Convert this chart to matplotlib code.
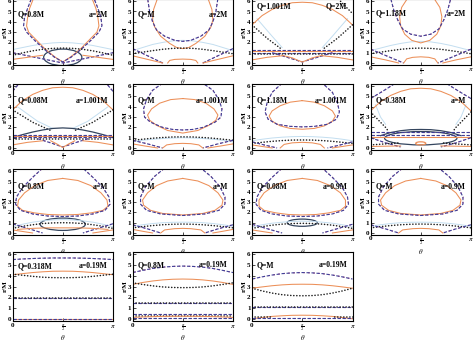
import numpy as np
import matplotlib.pyplot as plt
from matplotlib.patches import Ellipse

plt.rcParams['font.family'] = ['Liberation Serif', 'DejaVu Serif']
plt.rcParams['mathtext.fontset'] = 'stix'

# panel labels (left: charge, right: spin)
left_labels = ["Q=0.8M", "Q=M", "Q=1.001M", "Q=1.18M",
               "Q=0.08M", "Q=M", "Q=1.18M", "Q=0.38M",
               "Q=0.8M", "Q=M", "Q=0.08M", "Q=M",
               "Q=0.318M", "Q=0.8M", "Q=M"]
right_labels = ["a=2M", "a=2M", "Q=2M", "a=2M",
                "a=1.001M", "a=1.001M", "a=1.001M", "a=M",
                "a=M", "a=M", "a=0.9M", "a=0.9M",
                "a=0.19M", "a=0.19M", "a=0.19M"]
label_r = [4.7, 4.7, 5.5, 4.8, 4.6, 4.6, 4.6, 4.6,
           4.5, 4.5, 4.5, 4.5, 4.9, 5.0, 5.0]

# curves: (style, theta/pi, r/M, mirror mode)
# "join" -> left half mirrored about pi/2 into one line, "pair" -> two separate lines
dome_hi_t = [0, 0.1, 0.2, 0.3, 0.4, 0.5]

p1 = [
    ("lb", dome_hi_t, [1.3, 1.5, 1.7, 1.85, 1.95, 2.0], "join"),
    ("or", [0.21, 0.17, 0.15, 0.14, 0.16, 0.23, 0.32, 0.42, 0.5], [6.3, 5.3, 4.4, 3.6, 3.0, 2.3, 1.4, 0.6, 0.1], "join"),
    ("pd", [0.19, 0.15, 0.12, 0.11, 0.14, 0.22, 0.32, 0.42, 0.5], [6.3, 5.3, 4.4, 3.6, 3.0, 2.2, 1.3, 0.55, 0.1], "join"),
    ("pd", [0.0, 0.25, 0.5], [1.0, 0.5, 0.0], "join"),
    ("bd", dome_hi_t, [0.75, 0.98, 1.18, 1.33, 1.42, 1.45], "join"),
    ("or", [0.0, 0.15, 0.3], [0.35, 0.55, 0.75], "pair"),
]
p2 = [
    ("lb", dome_hi_t, [1.2, 1.5, 1.8, 2.0, 2.15, 2.2], "join"),
    ("or", [0.25, 0.21, 0.2, 0.22, 0.28, 0.37, 0.44, 0.5], [6.3, 5.2, 4.2, 3.5, 2.6, 1.9, 1.5, 1.4], "join"),
    ("pd", [0.15, 0.17, 0.2, 0.24, 0.32, 0.42, 0.5], [6.3, 5.0, 4.0, 3.2, 2.6, 2.2, 2.1], "join"),
    ("bd", dome_hi_t, [0.9, 1.05, 1.2, 1.33, 1.42, 1.45], "join"),
    ("pd", [0.0, 0.15, 0.3], [1.4, 0.7, 0.0], "pair"),
    ("or", [0.35, 0.37, 0.42, 0.5], [0.0, 0.25, 0.35, 0.38], "join"),
    ("or", [0.0, 0.15, 0.3], [0.7, 0.35, 0.0], "pair"),
]
p3 = [
    ("lb", [0.05, 0.2, 0.3], [4.3, 2.6, 1.5], "pair"),
    ("or", dome_hi_t, [3.7, 4.6, 5.2, 5.6, 5.85, 5.9], "join"),
    ("bd", [0.0, 0.15, 0.3], [3.7, 2.4, 1.3], "pair"),
    ("bd", [0.86, 1.0], [6.2, 4.8], None),
    ("pd", [0.0, 1.0], [1.25, 1.25], None),
    ("or", [0.0, 1.0], [1.12, 1.12], None),
    ("pd", [0.0, 1.0], [1.0, 1.0], None),
    ("bd", [0.0, 1.0], [0.85, 0.85], None),
    ("pd", [0.2, 0.35, 0.5], [1.0, 0.55, 0.1], "join"),
    ("or", [0.3, 0.4, 0.46, 0.5], [0.75, 0.5, 0.25, 0.1], "join"),
    ("or", [0.0, 0.15, 0.3], [0.3, 0.55, 0.7], "pair"),
]
p4 = [
    ("lb", dome_hi_t, [1.2, 1.45, 1.7, 1.9, 2.05, 2.1], "join"),
    ("or", [0.37, 0.31, 0.29, 0.3, 0.34, 0.41, 0.5], [6.3, 5.4, 4.5, 3.6, 2.8, 2.2, 1.95], "join"),
    ("pd", [0.2, 0.23, 0.27, 0.32, 0.4, 0.5], [6.3, 5.2, 4.2, 3.3, 2.8, 2.6], "join"),
    ("bd", dome_hi_t, [0.9, 1.05, 1.2, 1.33, 1.42, 1.45], "join"),
    ("pd", [0.0, 0.17, 0.33], [1.35, 0.65, 0.0], "pair"),
    ("or", [0.33, 0.36, 0.42, 0.5], [0.0, 0.4, 0.55, 0.6], "join"),
    ("or", [0.0, 0.15, 0.28], [0.6, 0.3, 0.0], "pair"),
]
p5 = [
    ("lb", [0.05, 0.25, 0.4], [4.0, 2.6, 1.9], "pair"),
    ("or", dome_hi_t, [3.7, 4.6, 5.2, 5.6, 5.85, 5.9], "join"),
    ("bd", [0.0, 0.2, 0.38], [3.7, 2.5, 1.7], "pair"),
    ("pd", [0.0, 0.06], [5.5, 6.2], "pair"),
    ("dk", dome_hi_t, [1.0, 1.3, 1.55, 1.75, 1.9, 1.95], "join"),
    ("pd", [0.0, 1.0], [1.3, 1.3], None),
    ("or", [0.0, 1.0], [1.15, 1.15], None),
    ("pd", [0.0, 1.0], [1.05, 1.05], None),
    ("bd", [0.0, 1.0], [0.85, 0.85], None),
    ("pd", [0.25, 0.38, 0.5], [0.9, 0.5, 0.1], "join"),
    ("or", [0.38, 0.44, 0.5], [0.7, 0.4, 0.05], "join"),
    ("or", [0.0, 0.15, 0.3], [0.3, 0.55, 0.7], "pair"),
]
p6 = [
    ("lb", dome_hi_t, [0.6, 0.75, 0.85, 0.92, 0.97, 1.0], "join"),
    ("or", [0.5, 0.38, 0.27, 0.19, 0.15, 0.17, 0.24, 0.35, 0.5], [4.8, 4.7, 4.35, 3.8, 3.2, 2.7, 2.2, 1.7, 1.45], "join"),
    ("pd", [0.3, 0.2, 0.14, 0.11, 0.12, 0.18, 0.3, 0.4, 0.5], [6.3, 5.6, 4.7, 3.8, 3.0, 2.5, 2.0, 1.8, 1.75], "join"),
    ("bd", dome_hi_t, [0.75, 0.85, 0.95, 1.02, 1.07, 1.08], "join"),
    ("pd", [0.0, 0.15, 0.3], [0.75, 0.4, 0.0], "pair"),
    ("or", [0.3, 0.34, 0.42, 0.5], [0.0, 0.3, 0.42, 0.45], "join"),
    ("or", [0.0, 0.12, 0.25], [0.4, 0.2, 0.0], "pair"),
]
p7 = [
    ("lb", dome_hi_t, [0.7, 0.85, 0.97, 1.05, 1.1, 1.12], "join"),
    ("or", [0.5, 0.38, 0.28, 0.2, 0.17, 0.2, 0.28, 0.38, 0.5], [4.6, 4.45, 4.1, 3.6, 3.1, 2.6, 2.15, 1.9, 1.82], "join"),
    ("pd", [0.3, 0.2, 0.15, 0.13, 0.16, 0.25, 0.38, 0.5], [6.3, 5.4, 4.4, 3.5, 2.8, 2.3, 2.1, 2.05], "join"),
    ("bd", dome_hi_t, [0.45, 0.55, 0.65, 0.72, 0.77, 0.78], "join"),
    ("pd", [0.0, 0.12, 0.25], [0.6, 0.3, 0.0], "pair"),
    ("or", [0.28, 0.32, 0.4, 0.5], [0.0, 0.35, 0.5, 0.55], "join"),
    ("or", [0.0, 0.1, 0.2], [0.3, 0.15, 0.0], "pair"),
]
p8 = [
    ("lb", [0.05, 0.1, 0.15], [4.2, 3.0, 2.3], "pair"),
    ("or", dome_hi_t, [3.6, 4.5, 5.1, 5.5, 5.75, 5.8], "join"),
    ("pd", [0.0, 0.12, 0.25], [4.8, 5.5, 6.3], "pair"),
    ("bd", [0.0, 0.08, 0.15, 0.18], [3.5, 2.7, 2.0, 1.6], "pair"),
    ("dk", [0.1, 0.2, 0.3, 0.4, 0.5], [1.2, 1.5, 1.68, 1.78, 1.8], "join"),
    ("pd", [0.0, 1.0], [1.55, 1.55], None),
    ("pd", [0.0, 1.0], [1.3, 1.3], None),
    ("or", [0.0, 1.0], [1.1, 1.1], None),
    ("pd", [0.0, 0.15, 0.3], [1.0, 0.5, 0.1], "pair"),
    ("bd", [0.0, 0.3], [0.3, 0.5], "pair"),
    ("or", [0.0, 0.3], [0.15, 0.2], "pair"),
]
p9 = [
    ("lb", dome_hi_t, [0.6, 0.85, 1.05, 1.18, 1.27, 1.3], "join"),
    ("or", [0.5, 0.35, 0.22, 0.12, 0.06, 0.05, 0.1, 0.22, 0.35, 0.5], [5.3, 5.1, 4.6, 3.9, 3.2, 2.6, 2.2, 1.95, 1.8, 1.75], "join"),
    ("pd", [0.3, 0.2, 0.1, 0.04, 0.03, 0.08, 0.2, 0.35, 0.5], [6.3, 5.4, 4.4, 3.5, 2.8, 2.2, 1.85, 1.65, 1.6], "join"),
    ("bd", dome_hi_t, [0.45, 0.65, 0.8, 0.92, 0.98, 1.0], "join"),
    ("pd", [0.0, 0.15, 0.3], [0.9, 0.45, 0.0], "pair"),
    ("or", [0.05, 0.2, 0.35, 0.5], [0.35, 0.45, 0.5, 0.5], "join"),
    ("or", [0.0, 0.1, 0.2], [0.3, 0.15, 0.0], "pair"),
]
p10 = [
    ("lb", dome_hi_t, [0.65, 0.8, 0.92, 1.0, 1.04, 1.05], "join"),
    ("or", [0.5, 0.35, 0.24, 0.15, 0.1, 0.11, 0.18, 0.3, 0.5], [5.3, 5.05, 4.6, 3.9, 3.2, 2.7, 2.2, 1.9, 1.75], "join"),
    ("pd", [0.32, 0.22, 0.13, 0.08, 0.08, 0.14, 0.28, 0.5], [6.3, 5.5, 4.5, 3.5, 2.8, 2.2, 1.85, 1.7], "join"),
    ("bd", dome_hi_t, [0.5, 0.62, 0.72, 0.8, 0.85, 0.87], "join"),
    ("pd", [0.0, 0.15, 0.28], [0.8, 0.4, 0.0], "pair"),
    ("or", [0.28, 0.32, 0.42, 0.5], [0.0, 0.3, 0.42, 0.45], "join"),
    ("or", [0.0, 0.1, 0.2], [0.35, 0.17, 0.0], "pair"),
]
p11 = [
    ("lb", dome_hi_t, [0.6, 0.8, 0.95, 1.05, 1.12, 1.15], "join"),
    ("or", [0.5, 0.35, 0.22, 0.12, 0.07, 0.07, 0.12, 0.24, 0.36, 0.5], [5.3, 5.1, 4.6, 3.9, 3.2, 2.6, 2.2, 1.95, 1.8, 1.75], "join"),
    ("pd", [0.3, 0.2, 0.1, 0.05, 0.04, 0.09, 0.2, 0.35, 0.5], [6.3, 5.4, 4.4, 3.5, 2.8, 2.2, 1.85, 1.65, 1.6], "join"),
    ("bd", dome_hi_t, [0.45, 0.62, 0.76, 0.86, 0.92, 0.94], "join"),
    ("pd", [0.0, 0.15, 0.3], [0.85, 0.42, 0.0], "pair"),
    ("or", [0.0, 0.1, 0.2], [0.3, 0.15, 0.0], "pair"),
]
p12 = [
    ("lb", dome_hi_t, [0.65, 0.8, 0.92, 1.0, 1.04, 1.05], "join"),
    ("or", [0.5, 0.35, 0.24, 0.15, 0.1, 0.11, 0.18, 0.3, 0.5], [5.3, 5.05, 4.6, 3.9, 3.2, 2.7, 2.2, 1.9, 1.75], "join"),
    ("pd", [0.32, 0.22, 0.13, 0.08, 0.08, 0.14, 0.28, 0.5], [6.3, 5.5, 4.5, 3.5, 2.8, 2.2, 1.85, 1.7], "join"),
    ("bd", dome_hi_t, [0.5, 0.62, 0.72, 0.8, 0.85, 0.87], "join"),
    ("pd", [0.0, 0.15, 0.28], [0.8, 0.4, 0.0], "pair"),
    ("or", [0.28, 0.32, 0.42, 0.5], [0.0, 0.3, 0.42, 0.45], "join"),
]
p13 = [
    ("pd", dome_hi_t, [5.5, 5.56, 5.6, 5.63, 5.65, 5.65], "join"),
    ("or", dome_hi_t, [4.1, 4.2, 4.3, 4.37, 4.42, 4.43], "join"),
    ("bd", dome_hi_t, [4.15, 4.05, 3.95, 3.87, 3.83, 3.82], "join"),
    ("pd", [0.0, 1.0], [1.9, 1.9], None),
    ("bd", [0.0, 1.0], [1.9, 1.9], None),
    ("or", [0.0, 1.0], [0.04, 0.04], None),
    ("pd", [0.0, 1.0], [0.0, 0.0], None),
]
p14 = [
    ("pd", dome_hi_t, [4.3, 4.5, 4.68, 4.8, 4.87, 4.9], "join"),
    ("or", dome_hi_t, [3.2, 3.38, 3.52, 3.62, 3.68, 3.7], "join"),
    ("bd", dome_hi_t, [3.35, 3.2, 3.07, 2.97, 2.92, 2.9], "join"),
    ("pd", [0.0, 1.0], [1.45, 1.45], None),
    ("bd", [0.0, 1.0], [1.45, 1.45], None),
    ("pd", [0.0, 1.0], [0.45, 0.45], None),
    ("bd", [0.0, 1.0], [0.32, 0.32], None),
    ("or", dome_hi_t, [0.15, 0.19, 0.22, 0.24, 0.25, 0.25], "join"),
    ("pd", [0.0, 1.0], [0.05, 0.05], None),
]
p15 = [
    ("pd", dome_hi_t, [3.7, 3.9, 4.07, 4.2, 4.27, 4.3], "join"),
    ("or", dome_hi_t, [2.85, 2.97, 3.08, 3.16, 3.21, 3.22], "join"),
    ("bd", dome_hi_t, [2.85, 2.6, 2.4, 2.25, 2.17, 2.15], "join"),
    ("pd", [0.0, 1.0], [1.15, 1.15], None),
    ("bd", [0.0, 1.0], [1.15, 1.15], None),
    ("or", dome_hi_t, [0.02, 0.14, 0.24, 0.3, 0.34, 0.35], "join"),
    ("bd", [0.0, 0.2], [0.15, 0.15], "pair"),
    ("pd", [0.0, 1.0], [0.05, 0.05], None),
]
panels = [p1, p2, p3, p4, p5, p6, p7, p8, p9, p10, p11, p12, p13, p14, p15]

# ellipses: panel index -> (style, theta/pi centre, r centre, width/pi, height)
ellipses = {
    0: [("dk", 0.5, 0.55, 0.38, 1.6)],
    7: [("dk", 0.5, 0.95, 0.72, 1.3), ("or", 0.5, 0.45, 0.1, 0.3)],
    8: [("dk", 0.5, 0.85, 0.45, 1.2)],
    10: [("dk", 0.5, 1.0, 0.3, 0.7)],
}

colors = {"or": "#ec8f58", "lb": "#c3def0", "dk": "#34455e", "bd": "#1e1e1e"}


def plot_styled(ax, x, y, style):
    if style == "pd":
        ax.plot(x, y, color="#c85a82", lw=0.8, ls=(3, (1.5, 3)))
        ax.plot(x, y, color="#3f3f98", lw=0.8, ls=(0, (3, 1.5)))
    elif style == "bd":
        ax.plot(x, y, color=colors["bd"], lw=1.15, ls=(0, (0.1, 1.8)),
                dash_capstyle="round")
    elif style == "lb":
        ax.plot(x, y, color=colors["lb"], lw=0.7)
    elif style == "dk":
        ax.plot(x, y, color=colors["dk"], lw=0.9)
    else:
        ax.plot(x, y, color=colors["or"], lw=0.75)


def draw_curve(ax, style, t, r, mode):
    t = np.asarray(t, float)
    r = np.asarray(r, float)
    if mode == "join":
        segs = [(np.concatenate([t, 1 - t[::-1][1:]]),
                 np.concatenate([r, r[::-1][1:]]))]
    elif mode == "pair":
        segs = [(t, r), (1 - t, r)]
    else:
        segs = [(t, r)]
    for tt, rr in segs:
        plot_styled(ax, tt * np.pi, rr, style)


W, H = 474, 342
fig = plt.figure(figsize=(W / 100, H / 100), dpi=100)

col_left = [12.5, 132.5, 252, 370.5]
col_w = 100.5
row_zero = [63, 148, 233, 319]
row_scale = [10.3, 10.3, 10.3, 10.8]
ymin, ymax = -0.2, 6.2

for i, curves in enumerate(panels):
    row, col = divmod(i, 4)
    top = row_zero[row] - ymax * row_scale[row]
    height = (ymax - ymin) * row_scale[row]
    ax = fig.add_axes([col_left[col] / W, 1 - (top + height) / H,
                       col_w / W, height / H])
    for style, t, r, mode in curves:
        draw_curve(ax, style, t, r, mode)
    for style, tc, rc, w, h in ellipses.get(i, []):
        ax.add_patch(Ellipse((tc * np.pi, rc), w * np.pi, h, fill=False,
                             ec=colors[style], lw=0.9))
    ax.set_xlim(0, np.pi)
    ax.set_ylim(ymin, ymax)
    ax.set_xticks([0, np.pi / 2, np.pi])
    ax.set_xticklabels(["0", r"$\frac{\pi}{2}$", r"$\pi$"])
    ax.set_yticks(range(7))
    ax.tick_params(direction="in", length=2, width=0.5, labelsize=5, pad=1.0)
    ax.get_xticklabels()[1].set_fontsize(4.5)
    for lab in ax.get_xticklabels() + ax.get_yticklabels():
        lab.set_fontweight("bold")
    for sp in ax.spines.values():
        sp.set_linewidth(0.8)
    ax.set_xlabel(r"$\theta$", fontsize=5)
    ax.set_ylabel("r/M", fontsize=5, fontweight="bold")
    ax.yaxis.set_label_coords(-0.05, 0.5)
    ax.xaxis.set_label_coords(0.5, -0.17 if row == 3 else -0.18)
    ax.text(0.05, label_r[i], left_labels[i], fontsize=5.5,
            fontweight="bold", va="center", ha="left",
            transform=ax.get_yaxis_transform())
    ax.text(0.95 * np.pi, label_r[i], right_labels[i], fontsize=5.5,
            fontweight="bold", va="center", ha="right")

fig.savefig("out.png", dpi=100)
